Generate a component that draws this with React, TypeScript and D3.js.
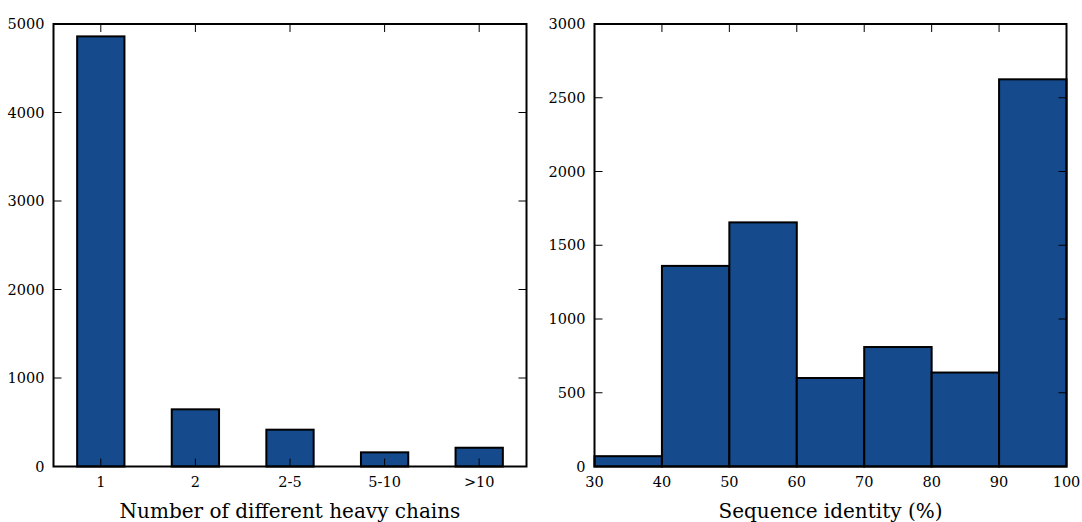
import React from "react";
import * as d3 from "d3";

const chainCategories = ["1", "2", "2-5", "5-10", ">10"];
const chainCounts = [4860, 646, 416, 160, 212];
const chainYTicks = [0, 1000, 2000, 3000, 4000, 5000];

const identityBinEdges = [30, 40, 50, 60, 70, 80, 90, 100];
const identityCounts = [70, 1360, 1655, 600, 810, 637, 2625];
const identityYTicks = [0, 500, 1000, 1500, 2000, 2500, 3000];

const W = 1082;
const H = 522;
const FILL = "#154a8c";
const FONT = "'DejaVu Serif', serif";
const TICK = 8;
const TICK_FS = 14.5;
const LABEL_FS = 20;

const top = 24;
const bottom = 466.5;

function Frame({ x0, x1 }: { x0: number; x1: number }) {
  return (
    <rect x={x0} y={top} width={x1 - x0} height={bottom - top} fill="none" stroke="#000" strokeWidth={2} />
  );
}

export default function App() {
  const lx0 = 53.5, lx1 = 526.5;
  const lx = d3.scaleLinear().domain([0.5, 5.5]).range([lx0, lx1]);
  const ly = d3.scaleLinear().domain([0, 5000]).range([bottom, top]);

  const rx0 = 594.5, rx1 = 1066.5;
  const rx = d3.scaleLinear().domain([30, 100]).range([rx0, rx1]);
  const ry = d3.scaleLinear().domain([0, 3000]).range([bottom, top]);

  return (
    <svg width={W} height={H} style={{ position: "absolute", left: 0, top: 0, background: "#fff" }}>
      <rect x={0} y={0} width={W} height={H} fill="#fff" />
      {chainCounts.map((v, i) => (
        <rect
          key={"lb" + i}
          x={lx(i + 1 - 0.25)}
          y={ly(v)}
          width={lx(i + 1.25) - lx(i + 0.75)}
          height={ly(0) - ly(v)}
          fill={FILL}
          stroke="#000"
          strokeWidth={2}
        />
      ))}
      {chainYTicks.map((t) => (
        <g key={"ly" + t}>
          <line x1={lx0} x2={lx0 + TICK} y1={ly(t)} y2={ly(t)} stroke="#000" strokeWidth={1} />
          <line x1={lx1} x2={lx1 - TICK} y1={ly(t)} y2={ly(t)} stroke="#000" strokeWidth={1} />
          <text x={lx0 - 9} y={ly(t)} dy="0.35em" textAnchor="end" fontFamily={FONT} fontSize={TICK_FS} fill="#000">
            {t}
          </text>
        </g>
      ))}
      {chainCategories.map((c, i) => (
        <g key={"lx" + c}>
          <line x1={lx(i + 1)} x2={lx(i + 1)} y1={bottom} y2={bottom - TICK} stroke="#000" strokeWidth={1} />
          <line x1={lx(i + 1)} x2={lx(i + 1)} y1={top} y2={top + TICK} stroke="#000" strokeWidth={1} />
          <text x={lx(i + 1)} y={487} textAnchor="middle" fontFamily={FONT} fontSize={TICK_FS} fill="#000">
            {c}
          </text>
        </g>
      ))}
      <Frame x0={lx0} x1={lx1} />
      <text x={(lx0 + lx1) / 2} y={518} textAnchor="middle" fontFamily={FONT} fontSize={LABEL_FS} fill="#000">
        Number of different heavy chains
      </text>

      {identityCounts.map((v, i) => (
        <rect
          key={"rb" + i}
          x={rx(identityBinEdges[i])}
          y={ry(v)}
          width={rx(identityBinEdges[i + 1]) - rx(identityBinEdges[i])}
          height={ry(0) - ry(v)}
          fill={FILL}
          stroke="#000"
          strokeWidth={2}
        />
      ))}
      {identityYTicks.map((t) => (
        <g key={"ry" + t}>
          <line x1={rx0} x2={rx0 + TICK} y1={ry(t)} y2={ry(t)} stroke="#000" strokeWidth={1} />
          <line x1={rx1} x2={rx1 - TICK} y1={ry(t)} y2={ry(t)} stroke="#000" strokeWidth={1} />
          <text x={rx0 - 9} y={ry(t)} dy="0.35em" textAnchor="end" fontFamily={FONT} fontSize={TICK_FS} fill="#000">
            {t}
          </text>
        </g>
      ))}
      {identityBinEdges.map((t) => (
        <g key={"rx" + t}>
          <line x1={rx(t)} x2={rx(t)} y1={bottom} y2={bottom - TICK} stroke="#000" strokeWidth={1} />
          <line x1={rx(t)} x2={rx(t)} y1={top} y2={top + TICK} stroke="#000" strokeWidth={1} />
          <text x={rx(t)} y={487} textAnchor="middle" fontFamily={FONT} fontSize={TICK_FS} fill="#000">
            {t}
          </text>
        </g>
      ))}
      <Frame x0={rx0} x1={rx1} />
      <text x={(rx0 + rx1) / 2} y={518} textAnchor="middle" fontFamily={FONT} fontSize={LABEL_FS} fill="#000">
        Sequence identity (%)
      </text>
    </svg>
  );
}
